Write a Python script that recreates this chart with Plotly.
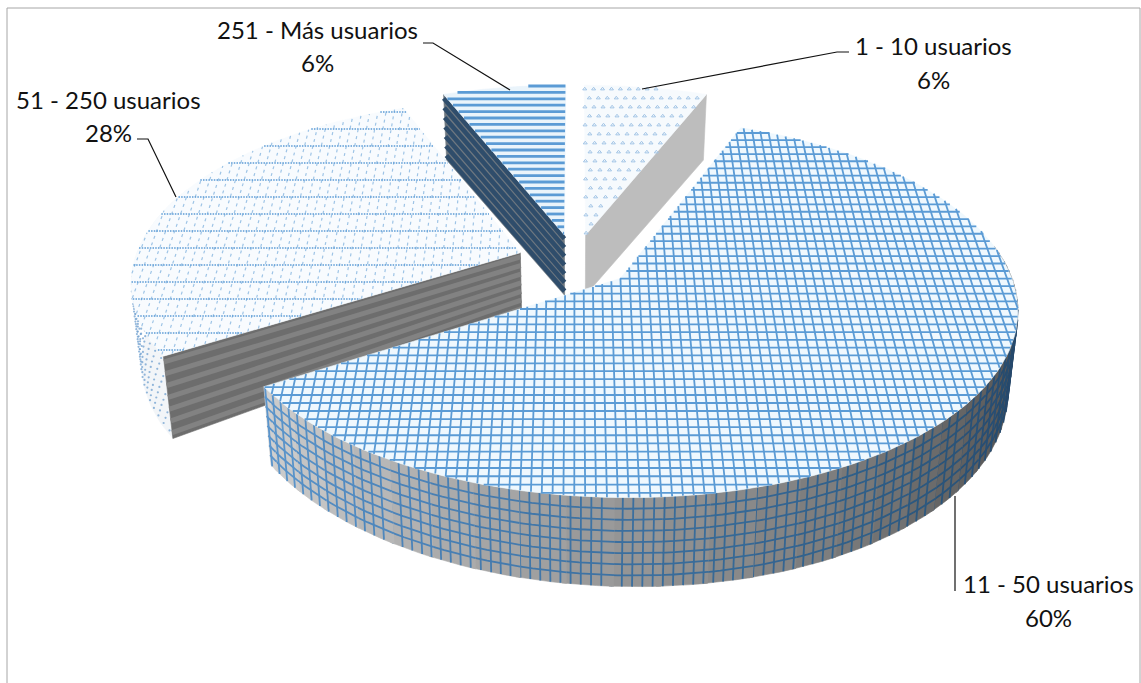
import numpy as np
import plotly.graph_objects as go

# ---- data
categories = ["1 - 10 usuarios", "11 - 50 usuarios", "51 - 250 usuarios", "251 - Más usuarios"]
percent = [6, 60, 28, 6]

# ---- view of the exploded 3-D pie
CX, CY, RX, RY, PERSP, EXPLODE = 575.0, 261.0, 386.0, 180.0, 0.152, 0.15
BLUE = "#5b9bd5"

shares = np.array(percent, float)
edges = np.concatenate([[0], np.cumsum(shares) / shares.sum() * 360])
SL = []
for i in range(len(shares)):
    a0, a1 = edges[i], edges[i + 1]
    m = np.radians((a0 + a1) / 2)
    SL.append(dict(a0=a0, a1=a1, ou=EXPLODE * np.sin(m), ov=EXPLODE * np.cos(m)))


def proj(u, v):
    w = 1 + PERSP * np.asarray(v)
    return CX + RX * np.asarray(u) / w, CY - RY * np.asarray(v) / w


def low(u, v, f=1.0):
    """Point of the slice's side at depth fraction f."""
    u, v = np.asarray(u), np.asarray(v)
    X, Y = proj(u, v)
    T = 60 + (u * u + v * v) * (14 - 9 * v)
    return CX + (1 - 0.023 * f) * (X - CX), Y + f * T


def rim(s, a):
    a = np.radians(a)
    return s["ou"] + np.sin(a), s["ov"] + np.cos(a)


def inside(s, u, v):
    du, dv = u - s["ou"], v - s["ov"]
    ang = np.degrees(np.arctan2(du, dv)) % 360
    return (du * du + dv * dv <= 1) & (ang >= s["a0"]) & (ang <= s["a1"])


def screen_v(y):
    t = CY - y
    return t / (RY - t * PERSP)


def hatch(s, v_levels=(), u_levels=()):
    xs, ys = [], []
    grid = np.linspace(-1.5, 1.5, 3001)
    fams = [(grid, np.full_like(grid, l)) for l in v_levels] + [(np.full_like(grid, l), grid) for l in u_levels]
    for u, v in fams:
        m = inside(s, u, v).astype(int)
        d = np.diff(np.concatenate([[0], m, [0]]))
        for b, e in zip(np.where(d == 1)[0], np.where(d == -1)[0]):
            X, Y = proj(u[[b, e - 1]], v[[b, e - 1]])
            xs += [X[0], X[1], None]
            ys += [Y[0], Y[1], None]
    return xs, ys


fig = go.Figure()


def poly(x, y, color):
    fig.add_trace(go.Scatter(x=list(x), y=list(y), mode="lines", fill="toself", fillcolor=color,
                             line=dict(color=color, width=0.6), hoverinfo="skip", showlegend=False))


def lines(x, y, color, width, dash=None):
    fig.add_trace(go.Scatter(x=x, y=y, mode="lines", line=dict(color=color, width=width, dash=dash),
                             connectgaps=False, hoverinfo="skip", showlegend=False))


def top_outline(s):
    a = np.linspace(s["a0"], s["a1"], 160)
    u, v = rim(s, a)
    u = np.concatenate([[s["ou"]], u, [s["ou"]]])
    v = np.concatenate([[s["ov"]], v, [s["ov"]]])
    return proj(u, v)


def cut_face(s, a):
    """Flat cut face of a slice along the radius at angle a."""
    ur, vr = rim(s, a)
    u = np.array([s["ou"], ur])
    v = np.array([s["ov"], vr])
    xt, yt = proj(u, v)
    xb, yb = low(u, v)
    return u, v, [xt[0], xt[1], xb[1], xb[0], xt[0]], [yt[0], yt[1], yb[1], yb[0], yt[0]]


def face_stripes(u, v, fracs):
    xs, ys = [], []
    for f in fracs:
        X, Y = low(u, v, f)
        xs += [X[0], X[1], None]
        ys += [Y[0], Y[1], None]
    return xs, ys


def y_levels(y0, y1, a, b):
    out, y = [], y0
    while y < y1:
        out.append(y)
        y += a + b * (y - y0) / (y1 - y0)
    return out


s1, s2, s3, s4 = SL

# ---- slice 1 (back right)
_, _, fx, fy = cut_face(s1, s1["a1"])
poly(fx, fy, "#bdbdbd")
x, y = top_outline(s1)
poly(x, y, "#f6fafd")
mx, my = [], []
for k, yy in enumerate(np.arange(80, 240, 9.0)):
    v = screen_v(yy)
    us = np.arange(-0.2, 0.8, 0.027) + (k % 2) * 0.0135
    keep = inside(s1, us, np.full_like(us, v))
    X, Y = proj(us[keep], np.full(keep.sum(), v))
    mx += list(X)
    my += list(Y)
fig.add_trace(go.Scatter(x=mx, y=my, mode="markers", hoverinfo="skip", showlegend=False,
                         marker=dict(symbol="triangle-up-open", size=3.5, color="#a3c5e6",
                                     line=dict(width=1, color="#a3c5e6"))))

# ---- slice 3 (left)
a = np.linspace(s3["a0"], 292, 40)
u, v = rim(s3, a)
xt, yt = proj(u, v)
xb, yb = low(u, v)
poly(np.concatenate([xt, xb[::-1]]), np.concatenate([yt, yb[::-1]]), "#f2f5f8")
mx, my = [], []
for ang in np.arange(s3["a0"] + 1, 285, 2.3):
    for k, f in enumerate(np.arange(0.06, 1, 0.11)):
        uu, vv = rim(s3, ang + (k % 2) * 1.1)
        X, Y = low(uu, vv, f)
        mx.append(float(X))
        my.append(float(Y))
fig.add_trace(go.Scatter(x=mx, y=my, mode="markers", hoverinfo="skip", showlegend=False,
                         marker=dict(symbol="circle", size=2.2, color="#6f9fcf", opacity=0.75)))
u, v, fx, fy = cut_face(s3, s3["a0"])
poly(fx, fy, "#6d6d6d")
xs, ys = face_stripes(u, v, np.arange(0.07, 1, 0.143))
lines(xs, ys, "#828282", 5)
x, y = top_outline(s3)
poly(x, y, "#f8fbfe")
xs, ys = hatch(s3, u_levels=np.arange(-1.4, 0.0, 0.024))
lines(xs, ys, "#9ec4e6", 1.2, "3px,4px")
xs, ys = hatch(s3, v_levels=[screen_v(yy) for yy in np.arange(112, 360, 17.0)])
lines(xs, ys, BLUE, 1.4, "1.5px,1.2px")

# ---- slice 4 (back)
u, v, fx, fy = cut_face(s4, s4["a0"])
poly(fx, fy, "#6f7880")
xs, ys = face_stripes(u, v, np.arange(0.06, 1, 0.145))
lines(xs, ys, "#2f4d6b", 4.6)
x, y = top_outline(s4)
poly(x, y, "#eaf4fb")
xs, ys = hatch(s4, v_levels=[screen_v(yy) for yy in np.arange(86, 240, 6.4)])
lines(xs, ys, BLUE, 2.8)

# ---- slice 2 (front): shaded curved side with its grid
shade_at = [80, 100, 130, 150, 180, 210, s2["a1"]]
shade_gr = [70, 80, 100, 122, 150, 178, 208]
line_r = [36, 38, 42, 48, 60, 76, 92]
line_g = [62, 70, 84, 96, 112, 132, 150]
line_b = [92, 104, 122, 138, 160, 186, 205]
band_edges = np.arange(80, s2["a1"] + 6, 6.0)
band_edges[-1] = s2["a1"]

# upright grid lines of the side, evenly spaced on screen
vert = []
ang = s2["a1"] - 0.4
while ang > 80:
    vert.append(ang)
    x0, y0 = proj(*rim(s2, ang))
    step = 0.2
    while True:
        x1, y1 = proj(*rim(s2, ang - step))
        if np.hypot(x1 - x0, y1 - y0) >= 10 or step > 6:
            break
        step += 0.1
    ang -= step
vert = np.array(vert)

for b0, b1 in zip(band_edges[:-1], band_edges[1:]):
    mid = (b0 + b1) / 2
    g = int(np.interp(mid, shade_at, shade_gr))
    col = f"rgb({g},{g},{g})"
    a = np.linspace(b0 - 0.3, min(b1 + 0.3, s2["a1"]), 7)
    u, v = rim(s2, a)
    xt, yt = proj(u, v)
    xb, yb = low(u, v)
    poly(np.concatenate([xt, xb[::-1]]), np.concatenate([yt, yb[::-1]]), col)
    lc = "rgb({},{},{})".format(*(int(np.interp(mid, shade_at, c)) for c in (line_r, line_g, line_b)))
    xs, ys = [], []
    for f in np.arange(0.125, 0.95, 0.125):
        X, Y = low(u, v, f)
        xs += list(X) + [None]
        ys += list(Y) + [None]
    for ang in vert[(vert >= b0) & (vert < b1)]:
        uu, vv = rim(s2, ang)
        Xt, Yt = proj(uu, vv)
        Xb, Yb = low(uu, vv)
        xs += [float(Xt), float(Xb), None]
        ys += [float(Yt), float(Yb), None]
    lines(xs, ys, lc, 1.8)

x, y = top_outline(s2)
poly(x, y, "#eff8fe")
xs, ys = hatch(s2,
               v_levels=[screen_v(yy) for yy in y_levels(126, 505, 7.0, 1.4)],
               u_levels=np.arange(-1.2, 1.3, 0.0235))
lines(xs, ys, BLUE, 1.8)

# ---- labels and leader lines
label_pos = [(933, 45, 79), (1048, 583, 617), (108, 99, 132), (317, 29, 62)]
leader_x = [[642, 837, 849], [955, 955], [176, 148, 137], [510, 433, 423]]
leader_y = [[89, 52, 52], [496, 591], [197, 139, 139], [90, 43, 43]]
for lx, ly in zip(leader_x, leader_y):
    lines(lx, ly, "#111111", 1.2)

ann = []
for name, pct, (px, y1, y2) in zip(categories, percent, label_pos):
    for txt, py in ((name, y1), (f"{pct}%", y2)):
        ann.append(dict(x=px, y=py, xref="x", yref="y", text=txt, showarrow=False,
                        xanchor="center", yanchor="middle",
                        font=dict(family="Lato, Carlito, sans-serif", size=24, color="#111111")))

fig.update_layout(
    width=1141, height=683, margin=dict(l=0, r=0, t=0, b=0),
    paper_bgcolor="white", plot_bgcolor="white", showlegend=False,
    annotations=ann,
    xaxis=dict(range=[0, 1141], visible=False, fixedrange=True),
    yaxis=dict(range=[683, 0], visible=False, fixedrange=True),
    shapes=[dict(type="rect", xref="x", yref="y", x0=7, y0=8, x1=1140, y1=700,
                 line=dict(color="#a6a6a6", width=1))],
)
fig.write_html("out.html", config={"displayModeBar": False},
               post_script="document.body.style.margin='0';")
